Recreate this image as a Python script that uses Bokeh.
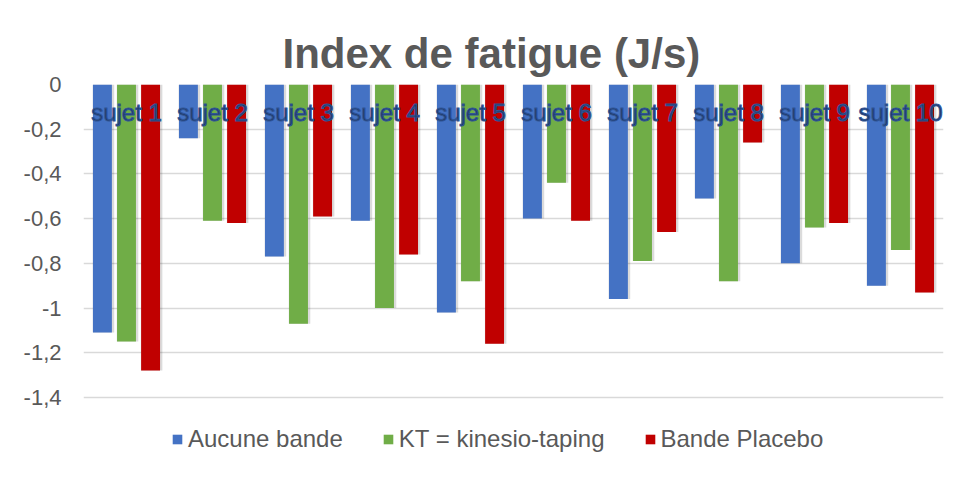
from bokeh.plotting import figure
from bokeh.models import FactorRange, FixedTicker, Legend, LegendItem, ColumnDataSource, Title
from bokeh.transform import dodge
from bokeh.core.properties import value
from bokeh.embed import file_html
from bokeh.resources import INLINE

subjects = ["sujet 1", "sujet 2", "sujet 3", "sujet 4", "sujet 5",
            "sujet 6", "sujet 7", "sujet 8", "sujet 9", "sujet 10"]
aucune = [-1.11, -0.24, -0.77, -0.61, -1.02, -0.60, -0.96, -0.51, -0.80, -0.90]
kt = [-1.15, -0.61, -1.07, -1.00, -0.88, -0.44, -0.79, -0.88, -0.64, -0.74]
placebo = [-1.28, -0.62, -0.59, -0.76, -1.16, -0.61, -0.66, -0.26, -0.62, -0.93]
series_names = ["Aucune bande", "KT = kinesio-taping", "Bande Placebo"]
tick_values = [0, -0.2, -0.4, -0.6, -0.8, -1.0, -1.2, -1.4]
tick_labels = ["0", "-0,2", "-0,4", "-0,6", "-0,8", "-1", "-1,2", "-1,4"]

colors = ["#4472C4", "#70AD47", "#C00000"]
FONT = "Liberation Sans"

src = ColumnDataSource(dict(subject=subjects, aucune=aucune, kt=kt, placebo=placebo,
                            label_y=[-0.125] * len(subjects)))

p = figure(x_range=FactorRange(factors=subjects), y_range=(-1.7, 0),
           frame_width=860, frame_height=380, output_backend="svg", toolbar_location=None,
           min_border_left=83, min_border_right=12, min_border_top=84, min_border_bottom=4)

p.title = Title(text="Index de fatigue (J/s)", align="left", text_font=FONT,
                text_font_size="42px", text_font_style="bold", text_color="#595959",
                offset=199, standoff=15)

offsets = [-0.28, 0.0, 0.28]
cols = ["aucune", "kt", "placebo"]
renderers = []
for off, col, c in zip(offsets, cols, colors):
    # soft shadow
    p.vbar(x=dodge("subject", off + 0.012, range=p.x_range), top=0, bottom=col, width=0.25,
           source=src, fill_color="black", fill_alpha=0.14, line_color=None)
    r = p.vbar(x=dodge("subject", off, range=p.x_range), top=0, bottom=col, width=0.22,
               source=src, fill_color=c, line_color=None)
    renderers.append(r)

p.text(x="subject", y="label_y", text="subject", source=src, text_font=value(FONT),
       text_font_size="24px", text_color="#1F3864", text_align="center",
       text_baseline="middle", text_outline_color="#2F5597")

p.xaxis.visible = False
p.yaxis.ticker = FixedTicker(ticks=tick_values)
p.yaxis.major_label_overrides = {v: l for v, l in zip(tick_values, tick_labels)}
p.yaxis.axis_line_color = None
p.yaxis.major_tick_line_color = None
p.yaxis.minor_tick_line_color = None
p.yaxis.major_label_text_font = FONT
p.yaxis.major_label_text_font_size = "22px"
p.yaxis.major_label_text_color = "#595959"
p.yaxis.major_label_standoff = 16

p.xgrid.grid_line_color = None
p.ygrid.grid_line_color = "#D9D9D9"
p.ygrid.grid_line_width = 1.5
p.ygrid.ticker = FixedTicker(ticks=tick_values)
p.outline_line_color = None

legend = Legend(items=[LegendItem(label=n, renderers=[r]) for n, r in zip(series_names, renderers)],
                orientation="horizontal", location=(88, 11),
                label_text_font=FONT, label_text_font_size="24px", label_text_color="#595959",
                glyph_width=12, glyph_height=12, label_standoff=5, spacing=39,
                border_line_color=None, background_fill_alpha=0, margin=0, padding=6)
p.add_layout(legend, "center")

open("out.html", "w").write(file_html(p, INLINE))
